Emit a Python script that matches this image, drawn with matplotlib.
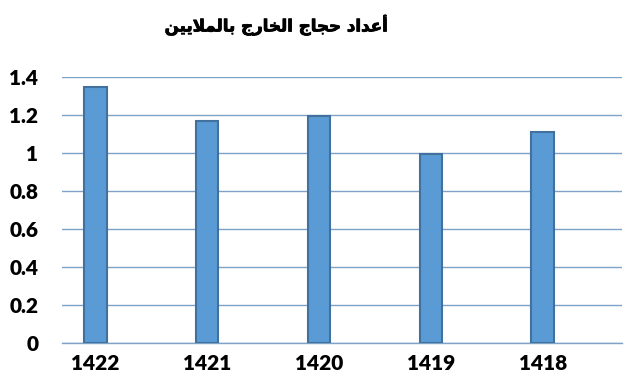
import matplotlib
matplotlib.use("Agg")
import matplotlib.pyplot as plt
import matplotlib.patheffects as pe

# data
years = ["1422", "1421", "1420", "1419", "1418"]
pilgrims = [1.345, 1.17, 1.195, 0.995, 1.11]
yticks = [0, 0.2, 0.4, 0.6, 0.8, 1, 1.2, 1.4]
ytick_labels = ["0", "0.2", "0.4", "0.6", "0.8", "1", "1.2", "1.4"]

# title: "أعداد حجاج الخارج بالملايين"
# matplotlib does no arabic shaping, so the string is given in
# presentation forms, already in visual (left to right) order
title_visual = (
    "\uFEE6\uFEF4\uFEF3\uFEFC\uFEE4\uFEDF\uFE8E\uFE91"
    " \uFE9D\uFEAD\uFE8E\uFEA8\uFEDF\uFE8D"
    " \uFE9D\uFE8E\uFEA0\uFEA3"
    " \uFEA9\uFE8D\uFEAA\uFECB\uFE83"
)

bar_color = "#5B9BD5"
edge_color = "#41719C"
grid_color = "#7FA3C6"

fig = plt.figure(figsize=(6.39, 3.85), dpi=100)
ax = fig.add_axes([62 / 639, 1 - 343 / 385, 560 / 639, 266 / 385])

x = list(range(len(years)))
ax.bar(x, pilgrims, width=0.2, color=bar_color, edgecolor=edge_color,
       linewidth=1.5, zorder=3)

ax.set_xlim(-0.30, 4.71)
ax.set_ylim(0, 1.4)
ax.set_yticks(yticks)
ax.set_yticklabels(ytick_labels)
ax.set_xticks(x)
ax.set_xticklabels(years)

for lab in ax.get_xticklabels() + ax.get_yticklabels():
    lab.set_fontfamily("Lato")
    lab.set_fontweight("heavy")
    lab.set_fontsize(15)
    lab.set_color("black")

ax.tick_params(axis="y", length=0, pad=17)
ax.tick_params(axis="x", length=0, pad=8)
ax.grid(axis="y", color=grid_color, linewidth=1, zorder=0)
for side in ["top", "right", "left"]:
    ax.spines[side].set_visible(False)
ax.spines["bottom"].set_color(grid_color)
ax.spines["bottom"].set_linewidth(1)

# the arabic glyphs come out light, so thicken them a little with a stroke
fig.text(276 / 639, 1 - 25 / 385, title_visual, ha="center", va="center",
         fontsize=12, fontweight="bold", family=["DejaVu Sans"],
         path_effects=[pe.withStroke(linewidth=0.6, foreground="black")])

fig.savefig("out.png", dpi=100)
